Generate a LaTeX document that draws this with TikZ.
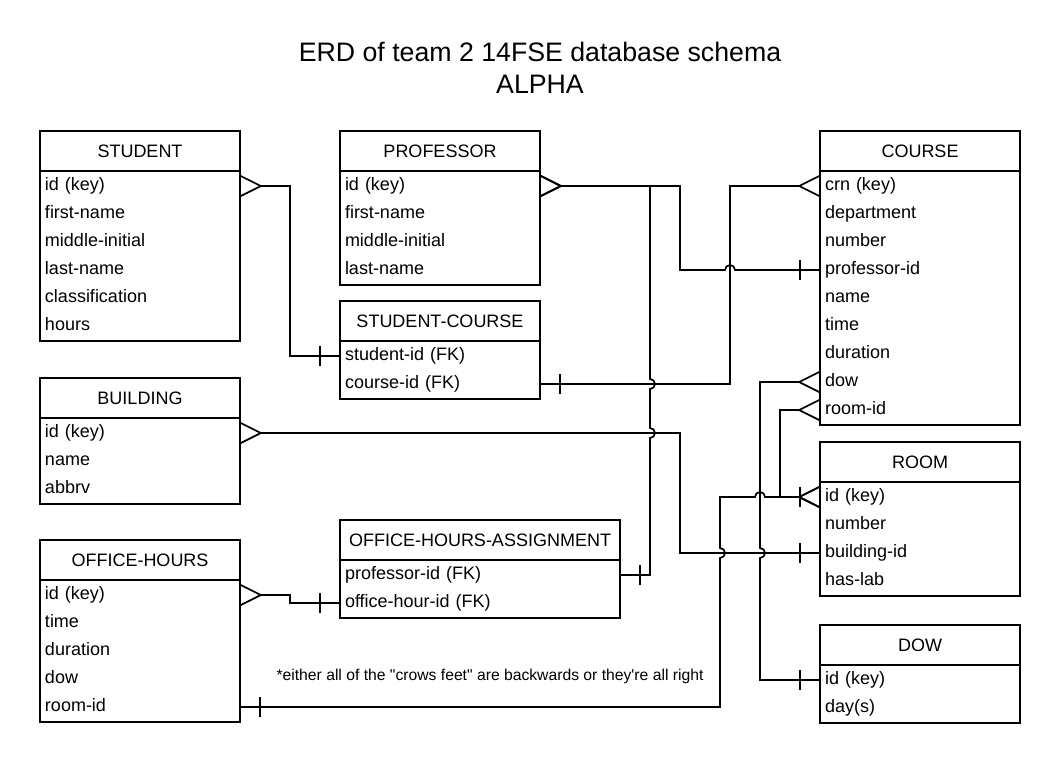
\documentclass[tikz,border=0pt]{standalone}
\usepackage{fontspec}
\setmainfont{Liberation Sans}
\usetikzlibrary{matrix,positioning,arrows.meta,decorations.markings}

\begin{document}
\begin{tikzpicture}[x=1pt, y=-1pt, line width=1.7pt,
    ent/.style={draw, outer sep=0pt, anchor=north west, minimum width=200pt, minimum height=40pt,
      font=\fontsize{18}{21}\selectfont},
    flds/.style={matrix of nodes, draw, outer sep=0pt, inner xsep=0pt, inner ysep=1pt, row sep=0pt,
      below=0pt of #1, nodes={text width=190pt, inner xsep=5pt, inner ysep=0pt, outer sep=0pt,
      minimum height=28pt, text height=12pt, text depth=4pt, align=left, font=\fontsize{18}{21}\selectfont}},
    crow/.tip={Straight Barb[reversed, length=20pt, width=20pt]},
    one start/.style={postaction={decorate, decoration={markings,
      mark=at position 20pt with {\draw[-] (0,-10pt) -- (0,10pt);}}}},
    one end/.style={postaction={decorate, decoration={markings,
      mark=at position -20pt with {\draw[-] (0,-10pt) -- (0,10pt);}}}}
  ]
\useasboundingbox (0,0) rectangle (1060,763);

% Title
\node[font=\fontsize{26.7}{32}\selectfont, align=center] (ttl) at (540,68)
  {ERD of team 2 14FSE database schema\\ALPHA};

% Entities, left column
\node[ent] (stu-t) at (40,131) {STUDENT};
\matrix (stu) [flds=stu-t] {
id (key) \\ first-name \\ middle-initial \\ last-name \\ classification \\ hours \\
};

\node[ent] (bld-t) at (40,378) {BUILDING};
\matrix (bld) [flds=bld-t] {
id (key) \\ name \\ abbrv \\
};

\node[ent] (oh-t) at (40,540) {OFFICE-HOURS};
\matrix (oh) [flds=oh-t] {
id (key) \\ time \\ duration \\ dow \\ room-id \\
};

% Entities, middle column
\node[ent] (prof-t) at (340,131) {PROFESSOR};
\matrix (prof) [flds=prof-t] {
id (key) \\ first-name \\ middle-initial \\ last-name \\
};

\node[ent] (sc-t) at (340,301) {STUDENT-COURSE};
\matrix (sc) [flds=sc-t] {
student-id (FK) \\ course-id (FK) \\
};

\node[ent, minimum width=280pt] (oha-t) at (340,520) {OFFICE-HOURS-ASSIGNMENT};
\matrix (oha) [flds=oha-t, nodes={text width=270pt}] {
professor-id (FK) \\ office-hour-id (FK) \\
};

% Entities, right column
\node[ent] (crs-t) at (820,131) {COURSE};
\matrix (crs) [flds=crs-t] {
crn (key) \\ department \\ number \\ professor-id \\ name \\ time \\ duration \\ dow \\ room-id \\
};

\node[ent] (room-t) at (820,442) {ROOM};
\matrix (room) [flds=room-t] {
id (key) \\ number \\ building-id \\ has-lab \\
};

\node[ent] (dow-t) at (820,625) {DOW};
\matrix (dow) [flds=dow-t] {
id (key) \\ day(s) \\
};

% Relations
\draw[one start, -{crow}] (sc-1-1.west) -- ++(-50,0) |- (stu-1-1.east);
\draw[one start, -{crow}] (crs-4-1.west) -- ++(-85,0) arc[start angle=0, end angle=180, radius=5pt]
  -- ++(-45,0) |- (prof-1-1.east);
\draw[one start, -{crow}] (oha-1-1.east) -- ++(30,0) -- ++(0,-137)
  arc[start angle=-90, end angle=90, radius=5pt] -- ++(0,-39)
  arc[start angle=-90, end angle=90, radius=5pt] |- (prof-1-1.east);
\draw[one start, -{crow}] (sc-2-1.east) -- ++(190,0) |- (crs-1-1.west);
\draw[one start, -{crow}] (room-3-1.west) -- ++(-140,0) |- (bld-1-1.east);
\draw[one start, -{crow}] (oha-2-1.west) -- ++(-50,0) |- (oh-1-1.east);
\draw[one start, one end, -{crow}] (oh-5-1.east) -- ++(480,0) -- ++(0,-149)
  arc[start angle=-90, end angle=90, radius=5pt] -- ++(0,-51) -- ++(35,0)
  arc[start angle=180, end angle=0, radius=5pt] -- (room-1-1.west);
\draw[one start, -{crow}] (dow-1-1.west) -- ++(-60,0) -- ++(0,-122)
  arc[start angle=-90, end angle=90, radius=5pt] |- (crs-8-1.west);
\draw[{crow}-{crow}] (crs-9-1.west) -- ++(-40,0) |- (room-1-1.west);

% Note
\node[font=\fontsize{15.7}{18}\selectfont] (note) at (490,676)
  {*either all of the \textquotedbl crows feet\textquotedbl{} are backwards or they\textquotesingle re all right};

\end{tikzpicture}
\end{document}
